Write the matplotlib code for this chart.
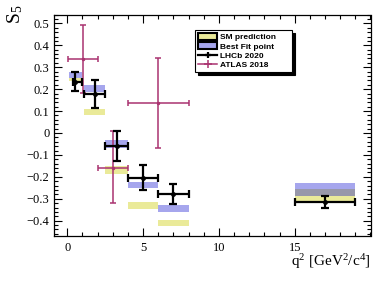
import numpy as np
import matplotlib
matplotlib.use('Agg')
import matplotlib.pyplot as plt
from matplotlib.patches import Patch
from matplotlib.lines import Line2D
from matplotlib.ticker import MultipleLocator, FuncFormatter

plt.rcParams['font.family'] = 'Liberation Serif'
plt.rcParams['mathtext.fontset'] = 'custom'
plt.rcParams['mathtext.rm'] = 'Liberation Serif'
plt.rcParams['mathtext.it'] = 'Liberation Serif'

# q2 bins
bin_lo = [0.1, 1.1, 2.5, 4.0, 6.0, 15.0]
bin_hi = [0.98, 2.5, 4.0, 6.0, 8.0, 19.0]

# LHCb 2020
lhcb_x = [0.54, 1.8, 3.25, 5.0, 7.0, 17.0]
lhcb_xlo = [0.35, 1.1, 2.5, 4.0, 6.0, 15.0]
lhcb_xhi = [0.95, 2.5, 4.0, 6.0, 8.0, 19.0]
lhcb_s5 = [0.233, 0.178, -0.06, -0.203, -0.28, -0.316]
lhcb_err = [0.043, 0.063, 0.07, 0.055, 0.046, 0.028]

# SM prediction band
sm_lo = [0.235, 0.08, -0.186, -0.348, -0.424, -0.314]
sm_hi = [0.252, 0.111, -0.151, -0.314, -0.397, -0.256]

# best fit band
bf_lo = [0.252, 0.187, -0.068, -0.25, -0.359, -0.288]
bf_hi = [0.28, 0.217, -0.033, -0.223, -0.329, -0.23]

# ATLAS 2018
atlas_lo = [0.04, 2.0, 4.0]
atlas_hi = [2.0, 4.0, 8.0]
atlas_s5 = [0.337, -0.159, 0.136]
atlas_up = [0.156, 0.167, 0.204]
atlas_dn = [0.155, 0.162, 0.206]

yellow = (0.8, 0.8, 0.0, 0.4)
blue = (0.0, 0.0, 0.8, 0.35)
atlas_col = '#AA3370'

fig = plt.figure(figsize=(3.9, 2.81), dpi=100)
ax = fig.add_axes([0.139, 0.16, 0.811, 0.788])

lo = np.array(bin_lo)
hi = np.array(bin_hi)
ax.bar(lo, np.array(sm_hi) - np.array(sm_lo), width=hi - lo, bottom=sm_lo,
       align='edge', color=yellow, linewidth=0, zorder=1)
ax.bar(lo, np.array(bf_hi) - np.array(bf_lo), width=hi - lo, bottom=bf_lo,
       align='edge', color=blue, linewidth=0, zorder=2)

alo = np.array(atlas_lo)
ahi = np.array(atlas_hi)
ax_c = (alo + ahi) / 2
ax.errorbar(ax_c, atlas_s5, xerr=[ax_c - alo, ahi - ax_c],
            yerr=[atlas_dn, atlas_up], fmt='o', ms=1.5, color=atlas_col,
            elinewidth=1.1, capsize=2.5, capthick=1.1, zorder=3)

lx = np.array(lhcb_x)
ax.errorbar(lx, lhcb_s5, xerr=[lx - np.array(lhcb_xlo), np.array(lhcb_xhi) - lx],
            yerr=lhcb_err, fmt='o', ms=2.5, color='black',
            elinewidth=1.6, capsize=2.8, capthick=1.6, zorder=4)

ax.set_xlim(-0.86, 20)
ax.set_ylim(-0.47, 0.54)
ax.set_xticks([0, 5, 10, 15])
ax.xaxis.set_minor_locator(MultipleLocator(1))
ax.yaxis.set_major_locator(MultipleLocator(0.1))
ax.yaxis.set_minor_locator(MultipleLocator(0.02))


def fmt(v, pos):
    if abs(v) < 1e-9:
        return '0'
    return ('%.1f' % v).replace('-', '\u2212')


ax.yaxis.set_major_formatter(FuncFormatter(fmt))
ax.tick_params(which='both', direction='in', top=True, right=True,
               labelsize=9, width=0.8)
ax.tick_params(which='major', length=6)
ax.tick_params(which='minor', length=3)
ax.tick_params(axis='x', pad=4)
for s in ax.spines.values():
    s.set_linewidth(0.9)

fig.text(0.950, 0.035, r'q$^2$ [GeV$^2$/c$^4$]', ha='right', va='bottom', fontsize=11)
fig.text(0.038, 0.985, r'S$_5$', ha='center', va='top', rotation=90, fontsize=14)

handles = [
    Patch(facecolor=yellow, edgecolor='black', linewidth=1.5),
    Patch(facecolor=blue, edgecolor='black', linewidth=1.5),
    Line2D([], [], color='black', marker='+', ms=5, lw=1.6, mew=1.6),
    Line2D([], [], color=atlas_col, marker='+', ms=6, lw=1.1, mew=1.1),
]
labels = ['SM prediction', 'Best Fit point', 'LHCb 2020', 'ATLAS 2018']
leg_h = 0.14
leg = fig.legend(handles, labels, loc='upper left',
                 bbox_to_anchor=(0.5, 0.893 - leg_h, 0.249, leg_h), mode='expand',
                 bbox_transform=fig.transFigure, borderaxespad=0, borderpad=0.35,
                 prop={'family': 'Liberation Sans', 'weight': 'bold', 'size': 6},
                 handlelength=2.3, handleheight=0.9, handletextpad=0.3,
                 labelspacing=0.12, fancybox=False, edgecolor='black',
                 framealpha=1, shadow={'color': 'black', 'alpha': 1})
leg.get_frame().set_linewidth(0.8)

fig.savefig('out.png', dpi=100)
